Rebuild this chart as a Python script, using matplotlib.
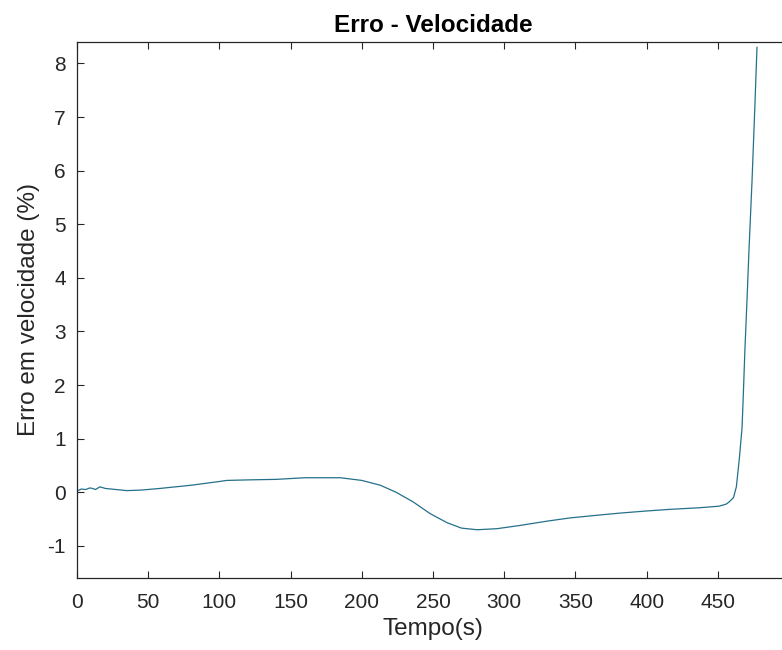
import numpy as np
import matplotlib.pyplot as plt

# valores
tempo = [0, 3, 6, 9, 11, 13, 16, 20, 35, 45, 58, 80, 100, 105, 120, 140, 160,
         185, 200, 213, 224, 236, 248, 260, 270, 281, 295, 311, 330, 346, 365,
         381, 400, 416, 437, 451, 456, 458, 461, 463, 465, 467, 468, 469,
         470.5, 472, 474, 476, 477.5]
erro = [0.02, 0.06, 0.05, 0.08, 0.07, 0.05, 0.10, 0.07, 0.03, 0.04, 0.07,
        0.13, 0.20, 0.22, 0.23, 0.24, 0.27, 0.27, 0.22, 0.13, 0.0, -0.18,
        -0.40, -0.57, -0.67, -0.70, -0.68, -0.62, -0.54, -0.48, -0.43, -0.39,
        -0.35, -0.32, -0.29, -0.26, -0.22, -0.18, -0.10, 0.10, 0.60, 1.20,
        1.90, 2.65, 3.60, 4.60, 5.80, 7.20, 8.30]
xticks = np.arange(0, 451, 50)
yticks = np.arange(-1, 9, 1)

cinza = '#262626'
plt.rcParams['font.family'] = ['Liberation Sans', 'DejaVu Sans']
plt.rcParams['axes.unicode_minus'] = False

fig = plt.figure(figsize=(7.82, 6.5), dpi=100)
ax = fig.add_axes([0.0985, 0.1108, 0.9105, 0.8246])

ax.plot(tempo, erro, color='#24708a', linewidth=0.9)

ax.set_xlim(0, 500)
ax.set_ylim(-1.6, 8.4)
ax.set_xticks(xticks)
ax.set_yticks(yticks)
ax.tick_params(direction='in', top=True, right=True, length=5, width=0.8,
               colors=cinza, labelsize=15)
ax.tick_params(axis='x', pad=11)
ax.tick_params(axis='y', pad=8)
for s in ax.spines.values():
    s.set_color(cinza)
    s.set_linewidth(0.9)

ax.set_title('Erro - Velocidade', fontsize=17.5, fontweight='bold', color='black', pad=7)
ax.set_xlabel('Tempo(s)', fontsize=17.5, color=cinza, labelpad=4)
ax.set_ylabel('Erro em velocidade (%)', fontsize=17.5, color=cinza, labelpad=5)

fig.savefig('out.png', dpi=100)
